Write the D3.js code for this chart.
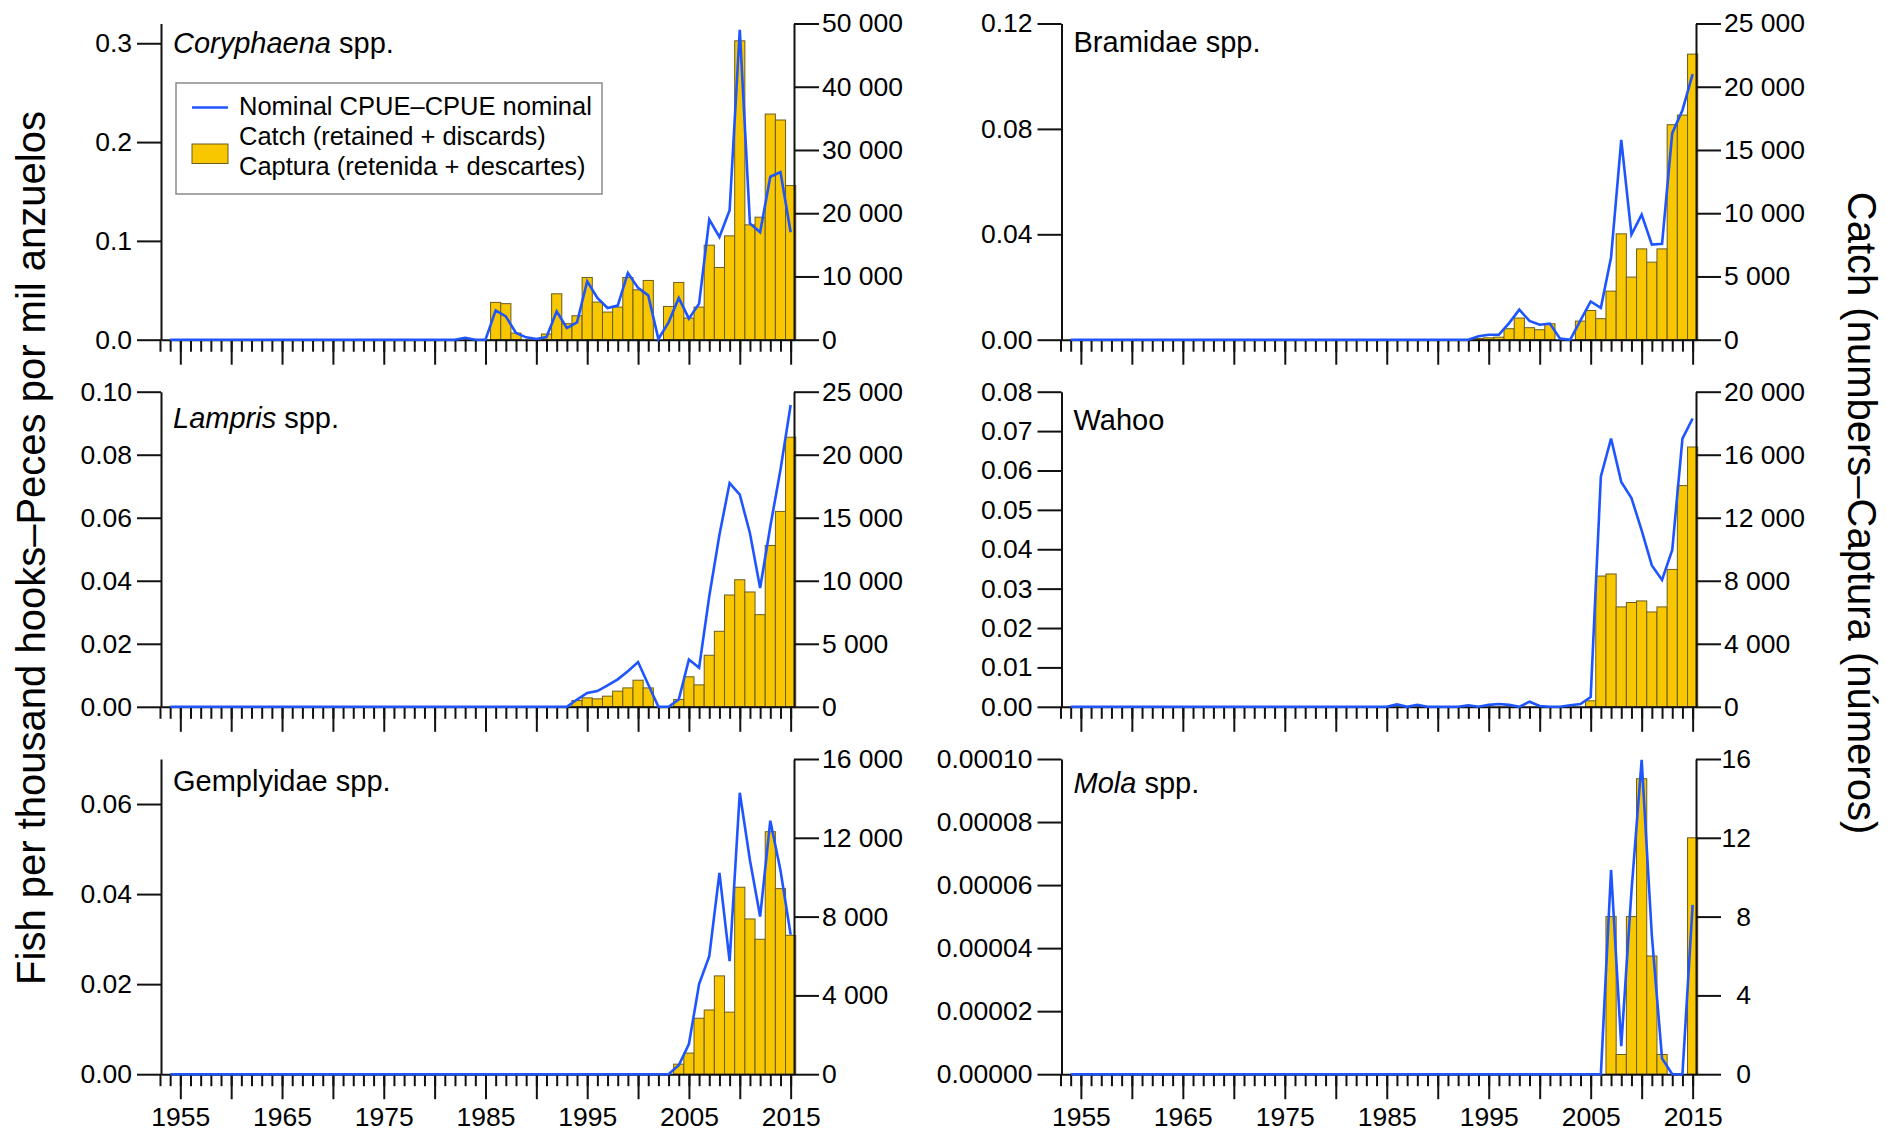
<!DOCTYPE html>
<html>
<head>
<meta charset="utf-8">
<script src="https://cdn.jsdelivr.net/npm/d3@7"></script>
<style>
  html, body { margin: 0; padding: 0; background: #fff; }
  svg { display: block; font-family: "Liberation Sans", Arial, Helvetica, sans-serif; }
</style>
</head>
<body>
<svg id="chart" width="1887" height="1132"></svg>
<script>
// ---------------------------------------------------------------------------
// Data: one value per year, 1954–2015
// ---------------------------------------------------------------------------
const years = d3.range(1954, 2016);

// Coryphaena spp.
const coryphaenaCatch = [
  0, 0, 0, 0, 0, 0,                                            // 1954–1959
  0, 0, 0, 0, 0, 0, 0, 0, 0, 0,                                // 1960s
  0, 0, 0, 0, 0, 0, 0, 0, 0, 0,                                // 1970s
  0, 0, 0, 0, 0, 0, 5900, 5700, 1050, 0,                       // 1980s
  0, 900, 7260, 2530, 3790, 9840, 5950, 4370, 5160, 9840,      // 1990s
  7890, 9370, 0, 5260, 9050, 3420, 5160, 14950, 11420, 16420,  // 2000s
  47260, 18160, 19370, 35680, 34740, 24370                     // 2010–2015
];
const coryphaenaCpue = [
  0, 0, 0, 0, 0, 0,
  0, 0, 0, 0, 0, 0, 0, 0, 0, 0,
  0, 0, 0, 0, 0, 0, 0, 0, 0, 0,
  0, 0, 0, 0.002, 0, 0, 0.0297, 0.0236, 0.0068, 0.0024,
  0.0007, 0.0027, 0.0287, 0.0118, 0.0176, 0.0591, 0.0422, 0.0321, 0.0345, 0.0676,
  0.0524, 0.0449, 0.0007, 0.0176, 0.0422, 0.0213, 0.0365, 0.1216, 0.104, 0.131,
  0.3135, 0.1176, 0.1088, 0.1649, 0.1696, 0.1088
];

// Bramidae spp.
const bramidaeCatch = [
  0, 0, 0, 0, 0, 0,
  0, 0, 0, 0, 0, 0, 0, 0, 0, 0,
  0, 0, 0, 0, 0, 0, 0, 0, 0, 0,
  0, 0, 0, 0, 0, 0, 0, 0, 0, 0,
  0, 0, 0, 0, 100, 150, 200, 870, 1710, 950,
  790, 1260, 0, 0, 1470, 2310, 1660, 3840, 8370, 4950,
  7180, 6130, 7180, 17000, 17760, 22580
];
const bramidaeCpue = [
  0, 0, 0, 0, 0, 0,
  0, 0, 0, 0, 0, 0, 0, 0, 0, 0,
  0, 0, 0, 0, 0, 0, 0, 0, 0, 0,
  0, 0, 0, 0, 0, 0, 0, 0, 0, 0,
  0, 0, 0, 0, 0.0013, 0.0019, 0.0019, 0.0063, 0.0114, 0.0071,
  0.0057, 0.0061, 0.0004, 0, 0.0073, 0.0145, 0.0121, 0.0313, 0.0758, 0.0399,
  0.0475, 0.0361, 0.0364, 0.0784, 0.0871, 0.1008
];

// Lampris spp.
const lamprisCatch = [
  0, 0, 0, 0, 0, 0,
  0, 0, 0, 0, 0, 0, 0, 0, 0, 0,
  0, 0, 0, 0, 0, 0, 0, 0, 0, 0,
  0, 0, 0, 0, 0, 0, 0, 0, 0, 0,
  0, 0, 0, 0, 500, 710, 630, 845, 1240, 1500,
  2110, 1500, 0, 0, 580, 2380, 1740, 4090, 5990, 8870,
  10080, 9110, 7310, 12800, 15500, 21390
];
const lamprisCpue = [
  0, 0, 0, 0, 0, 0,
  0, 0, 0, 0, 0, 0, 0, 0, 0, 0,
  0, 0, 0, 0, 0, 0, 0, 0, 0, 0,
  0, 0, 0, 0, 0, 0, 0, 0, 0, 0,
  0, 0, 0, 0, 0.0023, 0.0044, 0.005, 0.0068, 0.0087, 0.0113,
  0.0142, 0.0071, 0, 0, 0.0023, 0.015, 0.0124, 0.0351, 0.0546, 0.071,
  0.0673, 0.0551, 0.0377, 0.0572, 0.0752, 0.0958
];

// Wahoo
const wahooCatch = [
  0, 0, 0, 0, 0, 0,
  0, 0, 0, 0, 0, 0, 0, 0, 0, 0,
  0, 0, 0, 0, 0, 0, 0, 0, 0, 0,
  0, 0, 0, 0, 0, 0, 0, 0, 0, 0,
  0, 0, 0, 0, 0, 0, 0, 0, 0, 0,
  0, 0, 0, 0, 0, 380, 8300, 8430, 6340, 6620,
  6720, 6020, 6340, 8720, 14040, 16490
];
const wahooCpue = [
  0, 0, 0, 0, 0, 0,
  0, 0, 0, 0, 0, 0, 0, 0, 0, 0,
  0, 0, 0, 0, 0, 0, 0, 0, 0, 0,
  0, 0, 0, 0, 0, 0, 0.0006, 0, 0.0005, 0,
  0, 0, 0, 0.0004, 0, 0.0005, 0.0007, 0.0005, 0, 0.0013,
  0.0002, 0, 0, 0.0004, 0.0007, 0.0025, 0.0585, 0.0681, 0.0571, 0.053,
  0.0448, 0.0359, 0.0322, 0.0398, 0.0681, 0.0732
];

// Gemplyidae spp.
const gemplyidaeCatch = [
  0, 0, 0, 0, 0, 0,
  0, 0, 0, 0, 0, 0, 0, 0, 0, 0,
  0, 0, 0, 0, 0, 0, 0, 0, 0, 0,
  0, 0, 0, 0, 0, 0, 0, 0, 0, 0,
  0, 0, 0, 0, 0, 0, 0, 0, 0, 0,
  0, 0, 0, 0, 510, 1070, 2840, 3260, 4990, 3150,
  9490, 7880, 6850, 12310, 9420, 7050
];
const gemplyidaeCpue = [
  0, 0, 0, 0, 0, 0,
  0, 0, 0, 0, 0, 0, 0, 0, 0, 0,
  0, 0, 0, 0, 0, 0, 0, 0, 0, 0,
  0, 0, 0, 0, 0, 0, 0, 0, 0, 0,
  0, 0, 0, 0, 0, 0, 0, 0, 0, 0,
  0, 0, 0, 0, 0.002, 0.0067, 0.02, 0.0262, 0.0447, 0.0251,
  0.0625, 0.0475, 0.035, 0.0563, 0.0453, 0.031
];

// Mola spp.
const molaCatch = [
  0, 0, 0, 0, 0, 0,
  0, 0, 0, 0, 0, 0, 0, 0, 0, 0,
  0, 0, 0, 0, 0, 0, 0, 0, 0, 0,
  0, 0, 0, 0, 0, 0, 0, 0, 0, 0,
  0, 0, 0, 0, 0, 0, 0, 0, 0, 0,
  0, 0, 0, 0, 0, 0, 0, 8, 1, 8,
  15, 6, 1, 0, 0, 12
];
const molaCpue = [
  0, 0, 0, 0, 0, 0,
  0, 0, 0, 0, 0, 0, 0, 0, 0, 0,
  0, 0, 0, 0, 0, 0, 0, 0, 0, 0,
  0, 0, 0, 0, 0, 0, 0, 0, 0, 0,
  0, 0, 0, 0, 0, 0, 0, 0, 0, 0,
  0, 0, 0, 0, 0, 0, 0, 0.0000648, 0.0000089, 0.000058,
  0.0000997, 0.000044, 0.000005, 0, 0, 0.0000537
];

// Axis ticks
const yearTicks = d3.range(1953, 2016);
const yearLabels = [1955, 1965, 1975, 1985, 1995, 2005, 2015];

const coryphaenaCpueTicks = [0, 0.1, 0.2, 0.3];
const bramidaeCpueTicks = [0, 0.04, 0.08, 0.12];
const lamprisCpueTicks = [0, 0.02, 0.04, 0.06, 0.08, 0.10];
const wahooCpueTicks = [0, 0.01, 0.02, 0.03, 0.04, 0.05, 0.06, 0.07, 0.08];
const gemplyidaeCpueTicks = [0, 0.02, 0.04, 0.06];
const molaCpueTicks = [0, 0.00002, 0.00004, 0.00006, 0.00008, 0.0001];

const coryphaenaCatchTicks = [0, 10000, 20000, 30000, 40000, 50000];
const bramidaeCatchTicks = [0, 5000, 10000, 15000, 20000, 25000];
const lamprisCatchTicks = [0, 5000, 10000, 15000, 20000, 25000];
const wahooCatchTicks = [0, 4000, 8000, 12000, 16000, 20000];
const gemplyidaeCatchTicks = [0, 4000, 8000, 12000, 16000];
const molaCatchTicks = [0, 4, 8, 12, 16];

// ---------------------------------------------------------------------------
// Layout
// ---------------------------------------------------------------------------
const BAR_FILL = "#f8c700";
const BAR_STROKE = "#6b5d1c";
const LINE_COLOR = "#1e55ff";
const AXIS_COLOR = "#111";
const TICK_FONT = 26.5;
const TITLE_FONT = 29;

const cols = [{ x0: 161, x1: 794 }, { x0: 1061.5, x1: 1696 }];
const rows = [{ y0: 23.5, y1: 339.7 }, { y0: 391.7, y1: 706.8 }, { y0: 759, y1: 1074.2 }];
const yearDomain = [1953.1, 2015.33];

const panels = [
  { col: 0, row: 0, italic: "Coryphaena", plain: " spp.", titleY: 53,
    cpue: coryphaenaCpue, catchN: coryphaenaCatch,
    cpueMax: 0.32, cpueTicks: coryphaenaCpueTicks, cpueFmt: ".1f",
    catchMax: 50000, catchTicks: coryphaenaCatchTicks, legend: true },
  { col: 1, row: 0, italic: "", plain: "Bramidae spp.", titleY: 52,
    cpue: bramidaeCpue, catchN: bramidaeCatch,
    cpueMax: 0.12, cpueTicks: bramidaeCpueTicks, cpueFmt: ".2f",
    catchMax: 25000, catchTicks: bramidaeCatchTicks },
  { col: 0, row: 1, italic: "Lampris", plain: " spp.", titleY: 428,
    cpue: lamprisCpue, catchN: lamprisCatch,
    cpueMax: 0.10, cpueTicks: lamprisCpueTicks, cpueFmt: ".2f",
    catchMax: 25000, catchTicks: lamprisCatchTicks },
  { col: 1, row: 1, italic: "", plain: "Wahoo", titleY: 430,
    cpue: wahooCpue, catchN: wahooCatch,
    cpueMax: 0.08, cpueTicks: wahooCpueTicks, cpueFmt: ".2f",
    catchMax: 20000, catchTicks: wahooCatchTicks },
  { col: 0, row: 2, italic: "", plain: "Gemplyidae spp.", titleY: 791,
    cpue: gemplyidaeCpue, catchN: gemplyidaeCatch,
    cpueMax: 0.07, cpueTicks: gemplyidaeCpueTicks, cpueFmt: ".2f",
    catchMax: 16000, catchTicks: gemplyidaeCatchTicks },
  { col: 1, row: 2, italic: "Mola", plain: " spp.", titleY: 793,
    cpue: molaCpue, catchN: molaCatch,
    cpueMax: 0.0001, cpueTicks: molaCpueTicks, cpueFmt: ".5f",
    catchMax: 16, catchTicks: molaCatchTicks, rightAlignCatch: true }
];

const spaceLocale = d3.formatLocale({ decimal: ".", thousands: " ", grouping: [3], currency: ["", ""] });
const catchFmt = spaceLocale.format(",d");

const svg = d3.select("#chart");

function styleAxis(g) {
  g.selectAll("path.domain").attr("stroke", AXIS_COLOR).attr("stroke-width", 2);
  g.selectAll(".tick line").attr("stroke", AXIS_COLOR).attr("stroke-width", 2);
  g.selectAll(".tick text")
    .attr("fill", "#000")
    .style("font-size", TICK_FONT + "px")
    .style("font-family", '"Liberation Sans", Arial, sans-serif');
}

panels.forEach(p => {
  const c = cols[p.col], r = rows[p.row];
  const x = d3.scaleLinear().domain(yearDomain).range([c.x0, c.x1]);
  const yL = d3.scaleLinear().domain([0, p.cpueMax]).range([r.y1, r.y0]);
  const yR = d3.scaleLinear().domain([0, p.catchMax]).range([r.y1, r.y0]);
  const g = svg.append("g");

  // catch bars (right axis)
  const rowsData = years.map((yr, i) => ({ year: yr, cpue: p.cpue[i], catchN: p.catchN[i] }));
  g.append("g").selectAll("rect")
    .data(rowsData.filter(d => d.catchN > 0))
    .join("rect")
    .attr("x", d => x(d.year - 0.5))
    .attr("width", d => x(d.year + 0.5) - x(d.year - 0.5))
    .attr("y", d => yR(d.catchN))
    .attr("height", d => r.y1 - yR(d.catchN))
    .attr("fill", BAR_FILL)
    .attr("stroke", BAR_STROKE)
    .attr("stroke-width", 1);

  // x axis: yearly minor ticks, longer ticks every 5 years
  const xMinor = g.append("g").attr("transform", `translate(0,${r.y1})`)
    .call(d3.axisBottom(x).tickValues(yearTicks).tickSize(12).tickSizeOuter(0).tickFormat(""));
  styleAxis(xMinor);
  const xMajor = g.append("g").attr("transform", `translate(0,${r.y1})`)
    .call(d3.axisBottom(x).tickValues(yearTicks.filter(v => v % 5 === 0))
      .tickSize(25).tickSizeOuter(0).tickPadding(8)
      .tickFormat(v => (p.row === 2 && yearLabels.includes(v)) ? String(v) : ""));
  styleAxis(xMajor);
  xMajor.select("path.domain").remove();

  // left axis (CPUE)
  const axL = g.append("g").attr("transform", `translate(${c.x0},0)`)
    .call(d3.axisLeft(yL).tickValues(p.cpueTicks).tickSize(24).tickSizeOuter(0)
      .tickPadding(5).tickFormat(d3.format(p.cpueFmt)));
  styleAxis(axL);

  // right axis (catch)
  const axR = g.append("g").attr("transform", `translate(${c.x1},0)`)
    .call(d3.axisRight(yR).tickValues(p.catchTicks).tickSize(25).tickSizeOuter(0)
      .tickPadding(3).tickFormat(catchFmt));
  styleAxis(axR);
  if (p.rightAlignCatch) {
    axR.selectAll(".tick text").attr("text-anchor", "end").attr("x", 55);
  }

  // nominal CPUE line (left axis)
  const line = d3.line().x(d => x(d.year)).y(d => yL(d.cpue));
  g.append("path")
    .datum(rowsData)
    .attr("d", line)
    .attr("fill", "none")
    .attr("stroke", LINE_COLOR)
    .attr("stroke-width", 2.6);

  // panel title
  const t = g.append("text")
    .attr("x", c.x0 + 12)
    .attr("y", p.titleY)
    .style("font-size", TITLE_FONT + "px")
    .attr("fill", "#000");
  if (p.italic) t.append("tspan").style("font-style", "italic").text(p.italic);
  t.append("tspan").text(p.plain);

  // legend
  if (p.legend) {
    const lg = g.append("g");
    lg.append("rect")
      .attr("x", 176).attr("y", 83).attr("width", 426).attr("height", 111)
      .attr("fill", "#fff").attr("stroke", "#8a8a8a").attr("stroke-width", 1.5);
    lg.append("line")
      .attr("x1", 192).attr("x2", 228).attr("y1", 107.5).attr("y2", 107.5)
      .attr("stroke", LINE_COLOR).attr("stroke-width", 2.6);
    lg.append("rect")
      .attr("x", 192).attr("y", 144).attr("width", 36).attr("height", 19.5)
      .attr("fill", BAR_FILL).attr("stroke", BAR_STROKE).attr("stroke-width", 1);
    const legendTexts = [
      ["Nominal CPUE–CPUE nominal", 114.5],
      ["Catch (retained + discards)", 145],
      ["Captura (retenida + descartes)", 175]
    ];
    legendTexts.forEach(([s, yy]) => {
      lg.append("text").attr("x", 239).attr("y", yy)
        .style("font-size", "25.5px").attr("fill", "#000").text(s);
    });
  }
});

// shared axis titles
svg.append("text")
  .attr("transform", "translate(45,548) rotate(-90)")
  .attr("text-anchor", "middle")
  .style("font-size", "40px")
  .attr("fill", "#000")
  .text("Fish per thousand hooks–Peces por mil anzuelos");

svg.append("text")
  .attr("transform", "translate(1848,513) rotate(90)")
  .attr("text-anchor", "middle")
  .style("font-size", "40px")
  .attr("fill", "#000")
  .text("Catch (numbers–Captura (números)");
</script>
</body>
</html>
